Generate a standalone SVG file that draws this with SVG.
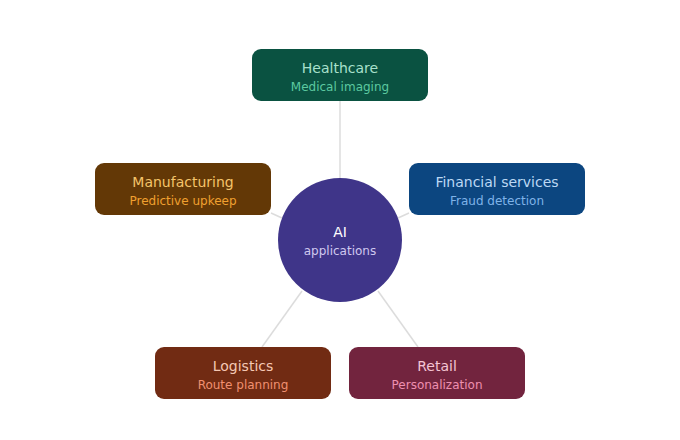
<svg xmlns="http://www.w3.org/2000/svg" width="680" height="440" viewBox="0 0 680 440">
<style>
.t{font-family:"DejaVu Sans",sans-serif;font-size:14px;text-anchor:middle}
.s{font-family:"DejaVu Sans",sans-serif;font-size:12px;text-anchor:middle}
.c line{stroke:#dcdcdc;stroke-width:1.5}
</style>
<rect width="680" height="440" fill="#fff"/>
<g class="c">
<line x1="340" y1="101" x2="340" y2="178"/>
<line x1="409" y1="213" x2="398" y2="218"/>
<line x1="271" y1="213" x2="282" y2="218"/>
<line x1="302" y1="291" x2="262" y2="347"/>
<line x1="378" y1="291" x2="418" y2="347"/>
</g>
<g id="center"><circle cx="340" cy="240" r="62" fill="#3f3589"/>
<text class="t" x="340" y="237" fill="#fff">AI</text><text class="s" x="340" y="255" fill="#cfc8ef">applications</text></g>
<g id="healthcare"><rect x="252" y="49" width="176" height="52" rx="9" fill="#0a5241"/>
<text class="t" x="340" y="73" fill="#a8e0cc">Healthcare</text><text class="s" x="340" y="91" fill="#5cc9a0">Medical imaging</text></g>
<g id="financial"><rect x="409" y="163" width="176" height="52" rx="9" fill="#0c4680"/>
<text class="t" x="497" y="187" fill="#bcd8f4">Financial services</text><text class="s" x="497" y="205" fill="#7fb3e8">Fraud detection</text></g>
<g id="manufacturing"><rect x="95" y="163" width="176" height="52" rx="9" fill="#633806"/>
<text class="t" x="183" y="187" fill="#f5c46a">Manufacturing</text><text class="s" x="183" y="205" fill="#f0a030">Predictive upkeep</text></g>
<g id="logistics"><rect x="155" y="347" width="176" height="52" rx="9" fill="#712b13"/>
<text class="t" x="243" y="371" fill="#f5c8b4">Logistics</text><text class="s" x="243" y="389" fill="#f09070">Route planning</text></g>
<g id="retail"><rect x="349" y="347" width="176" height="52" rx="9" fill="#72243e"/>
<text class="t" x="437" y="371" fill="#f5c4d4">Retail</text><text class="s" x="437" y="389" fill="#ee8fb0">Personalization</text></g>
</svg>
